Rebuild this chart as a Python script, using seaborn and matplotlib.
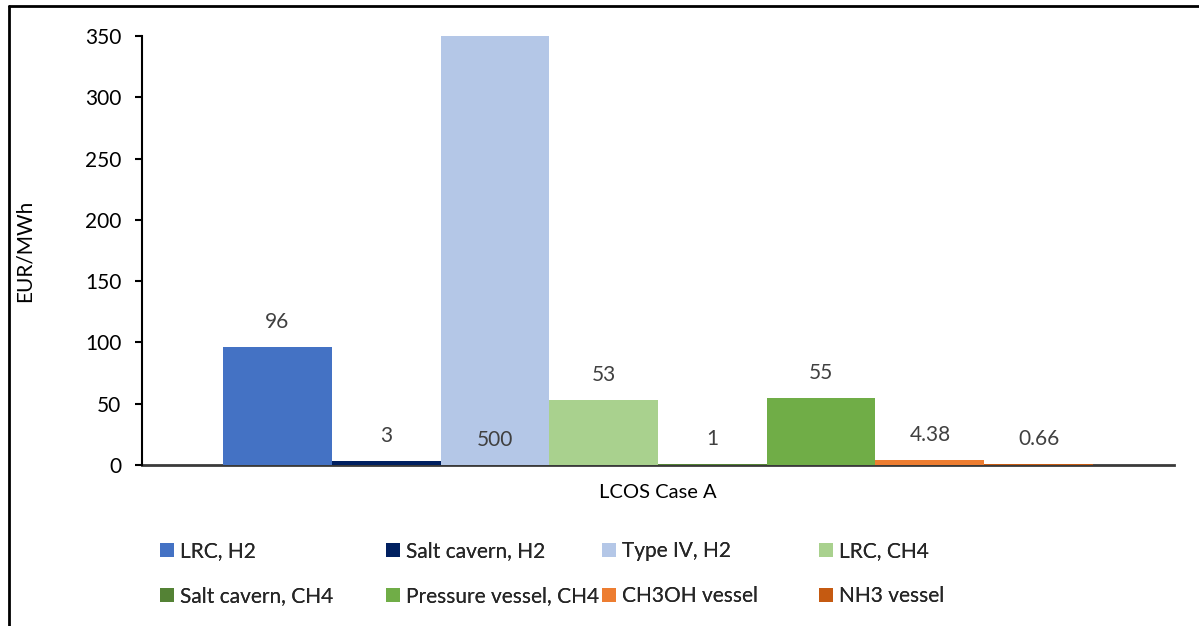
import matplotlib
matplotlib.use("Agg")
import matplotlib.pyplot as plt
from matplotlib.lines import Line2D
from matplotlib.patches import Patch
import seaborn as sns
import pandas as pd

# Levelised cost of storage, case A
case = "LCOS Case A"
storage_types = [
    "LRC, H2", "Salt cavern, H2", "Type IV, H2", "LRC, CH4",
    "Salt cavern, CH4", "Pressure vessel, CH4", "CH3OH vessel", "NH3 vessel",
]
lcos_values = [96, 3, 500, 53, 1, 55, 4.38, 0.66]
value_labels = ["96", "3", "500", "53", "1", "55", "4.38", "0.66"]
colors = ["#4472C4", "#002060", "#B4C7E7", "#A9D18E",
          "#548235", "#70AD47", "#ED7D31", "#C55A11"]
y_ticks = [0, 50, 100, 150, 200, 250, 300, 350]
y_max = 350

sns.set_theme(style="white")
plt.rcParams["font.family"] = ["Lato", "DejaVu Sans"]

df = pd.DataFrame({"case": [case] * len(storage_types),
                   "storage": storage_types,
                   "value": lcos_values})

fig = plt.figure(figsize=(11.99, 6.26), dpi=100)
ax = fig.add_axes([142 / 1199, 1 - 465 / 626, (1174 - 142) / 1199, (465 - 36) / 626])

sns.barplot(data=df, x="case", y="value", hue="storage", hue_order=storage_types,
            palette=colors, saturation=1, width=0.843, gap=0, legend=False,
            errorbar=None, linewidth=0, edgecolor="none", ax=ax)

ax.set_xlim(-0.5, 0.5)
ax.set_ylim(0, y_max)
ax.set_yticks(y_ticks)
ax.set_xlabel("")
ax.set_ylabel("EUR/MWh", fontsize=15, color="black")
ax.yaxis.set_label_coords(-0.104, 0.5)

for s in ["top", "right"]:
    ax.spines[s].set_visible(False)
ax.spines["left"].set_color("black")
ax.spines["left"].set_linewidth(1.5)
ax.spines["bottom"].set_color("#3a3a3a")
ax.spines["bottom"].set_linewidth(2)
ax.spines["bottom"].set_zorder(0.5)

ax.tick_params(axis="y", direction="out", length=5, width=1.5, color="black",
               labelsize=15, labelcolor="black", pad=10, left=True)
ax.tick_params(axis="x", length=0, labelsize=14.5, labelcolor="black", pad=14)

# value labels above each bar (clipped bars labelled at the base)
for container, val, lab in zip(ax.containers, lcos_values, value_labels):
    bar = container.patches[0]
    xc = bar.get_x() + bar.get_width() / 2
    anchor = val if val <= y_max else 0
    ax.annotate(lab, xy=(xc, anchor), xytext=(0, 18), textcoords="offset points",
                ha="center", va="center", fontsize=15, color="#404040",
                annotation_clip=False)

# legend in four equal columns
col_x = [160, 386, 602, 819]
row_handles = [[Patch(facecolor=c, edgecolor="none") for c in colors[i::4]] for i in range(4)]
row_labels = [storage_types[i::4] for i in range(4)]
for i in range(4):
    leg = fig.legend(row_handles[i], row_labels[i], loc="upper left",
                     bbox_to_anchor=(col_x[i] / 1199, 1 - 541 / 626),
                     bbox_transform=fig.transFigure, frameon=False, fontsize=15,
                     handlelength=0.65, handleheight=0.65, handletextpad=0.3,
                     labelspacing=1.2, borderaxespad=0, borderpad=0)
    fig.add_artist(leg)

# chart border (left and top edges)
fig.add_artist(Line2D([9 / 1199, 9 / 1199], [0, 1 - 6 / 626], transform=fig.transFigure,
                      color="black", linewidth=2))
fig.add_artist(Line2D([9 / 1199, 1], [1 - 6 / 626, 1 - 6 / 626], transform=fig.transFigure,
                      color="black", linewidth=2))

fig.savefig("out.png", dpi=100)
